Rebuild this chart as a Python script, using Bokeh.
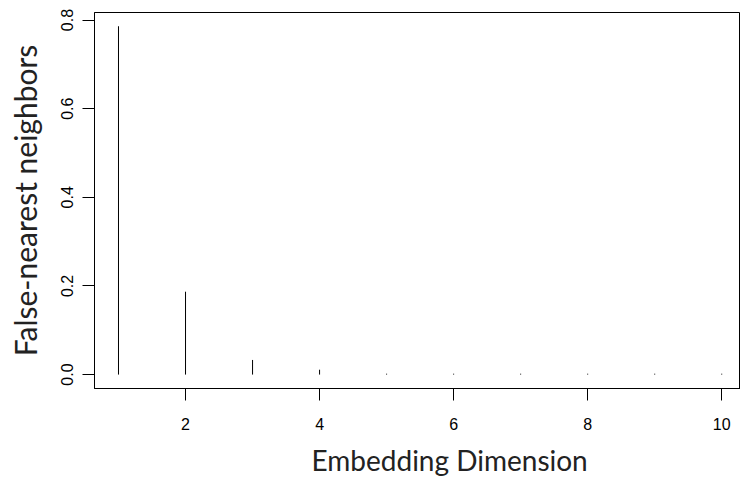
from bokeh.plotting import figure
from bokeh.models import Range1d, FixedTicker, PrintfTickFormatter, Title
from bokeh.embed import file_html
from bokeh.resources import INLINE

dims = [1, 2, 3, 4, 5, 6, 7, 8, 9, 10]
fnn = [0.786, 0.187, 0.033, 0.011, 0.002, 0.002, 0.002, 0.002, 0.002, 0.002]
x_ticks = [2, 4, 6, 8, 10]
y_ticks = [0.0, 0.2, 0.4, 0.6, 0.8]
x_title = "Embedding Dimension"
y_title = "False-nearest neighbors"

p = figure(width=740, height=485, output_backend="svg", toolbar_location=None,
           x_range=Range1d(0.642, 10.28), y_range=Range1d(-0.0314, 0.817),
           min_border_left=94, min_border_right=0, min_border_top=12, min_border_bottom=97)
p.background_fill_color = "white"
p.border_fill_color = "white"
p.outline_line_color = "black"
p.outline_line_width = 1
p.xgrid.visible = False
p.ygrid.visible = False

p.segment(x0=dims, y0=[0] * len(dims), x1=dims, y1=fnn, line_color="black", line_width=1)

for ax in (p.xaxis[0], p.yaxis[0]):
    ax.axis_line_color = "black"
    ax.major_tick_line_color = "black"
    ax.minor_tick_line_color = None
    ax.major_tick_out = 12
    ax.major_tick_in = 0
    ax.major_label_text_font = "Liberation Sans"
    ax.major_label_text_font_size = "16px"
    ax.major_label_text_color = "black"

p.xaxis.ticker = FixedTicker(ticks=x_ticks)
p.yaxis.ticker = FixedTicker(ticks=y_ticks)
p.yaxis.formatter = PrintfTickFormatter(format="%.1f")
p.yaxis.major_label_orientation = "vertical"
p.xaxis.major_label_standoff = 17
p.yaxis.major_label_standoff = 9

p.yaxis.axis_label = y_title
p.yaxis.axis_label_text_font = "Lato"
p.yaxis.axis_label_text_font_size = "30px"
p.yaxis.axis_label_text_font_style = "normal"
p.yaxis.axis_label_text_color = "#222222"
p.yaxis.axis_label_standoff = 16

t = Title(text=x_title, align="left", offset=217, text_font="Lato",
          text_font_size="28px", text_font_style="normal", text_color="#222222",
          standoff=16)
p.add_layout(t, "below")

open("out.html", "w").write(file_html(p, INLINE))
